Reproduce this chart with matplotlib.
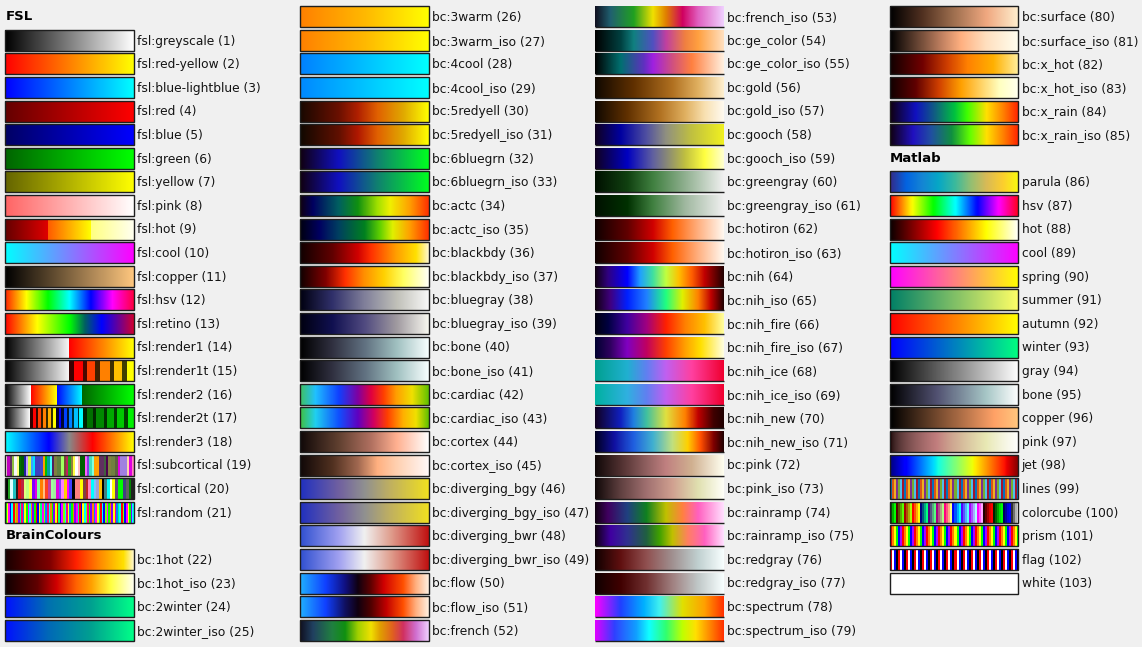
import numpy as np
import matplotlib
matplotlib.use("Agg")
import matplotlib.pyplot as plt
from matplotlib.colors import LinearSegmentedColormap, ListedColormap
from matplotlib.patches import Rectangle

# ---------------------------------------------------------------- data
section_titles = ["FSL", "BrainColours", "Matlab"]

fsl_names = ["fsl:greyscale", "fsl:red-yellow", "fsl:blue-lightblue", "fsl:red", "fsl:blue",
             "fsl:green", "fsl:yellow", "fsl:pink", "fsl:hot", "fsl:cool", "fsl:copper",
             "fsl:hsv", "fsl:retino", "fsl:render1", "fsl:render1t", "fsl:render2",
             "fsl:render2t", "fsl:render3", "fsl:subcortical", "fsl:cortical", "fsl:random"]

bc_names = ["bc:1hot", "bc:1hot_iso", "bc:2winter", "bc:2winter_iso", "bc:3warm", "bc:3warm_iso",
            "bc:4cool", "bc:4cool_iso", "bc:5redyell", "bc:5redyell_iso", "bc:6bluegrn",
            "bc:6bluegrn_iso", "bc:actc", "bc:actc_iso", "bc:blackbdy", "bc:blackbdy_iso",
            "bc:bluegray", "bc:bluegray_iso", "bc:bone", "bc:bone_iso", "bc:cardiac",
            "bc:cardiac_iso", "bc:cortex", "bc:cortex_iso", "bc:diverging_bgy",
            "bc:diverging_bgy_iso", "bc:diverging_bwr", "bc:diverging_bwr_iso", "bc:flow",
            "bc:flow_iso", "bc:french", "bc:french_iso", "bc:ge_color", "bc:ge_color_iso",
            "bc:gold", "bc:gold_iso", "bc:gooch", "bc:gooch_iso", "bc:greengray",
            "bc:greengray_iso", "bc:hotiron", "bc:hotiron_iso", "bc:nih", "bc:nih_iso",
            "bc:nih_fire", "bc:nih_fire_iso", "bc:nih_ice", "bc:nih_ice_iso", "bc:nih_new",
            "bc:nih_new_iso", "bc:pink", "bc:pink_iso", "bc:rainramp", "bc:rainramp_iso",
            "bc:redgray", "bc:redgray_iso", "bc:spectrum", "bc:spectrum_iso", "bc:surface",
            "bc:surface_iso", "bc:x_hot", "bc:x_hot_iso", "bc:x_rain", "bc:x_rain_iso"]

matlab_names = ["parula", "hsv", "hot", "cool", "spring", "summer", "autumn", "winter", "gray",
                "bone", "copper", "pink", "jet", "lines", "colorcube", "prism", "flag", "white"]

# band edges (percent of swatch width) and colours for the "transparent" render maps
render1t_edges = [50, 53.8, 60.5, 63.6, 70, 74, 81.3, 84.4, 90.9, 94.3, 100]
render1t_colors = ["#3c0000", "#ff0000", "#4a0800", "#ff4000", "#402000", "#ff8000",
                   "#403000", "#ffc000", "#404000", "#ffff00"]
render2t_edges = [19.5, 21.6, 23.9, 25.5, 27.8, 29.4, 31.9, 33.2, 35.8, 37.1, 39.7,
                  41.6, 43.6, 45.5, 48.1, 49.4, 51.9, 53.8, 56.4, 57.7, 60.3,
                  63.6, 68.3, 70.6, 76.6, 79.2, 84.4, 87.0, 92.2, 95.3, 100]
render2t_colors = ["#300000", "#ff0000", "#300800", "#ff4000", "#301800", "#ff8000",
                   "#302800", "#ffb000", "#303000", "#ffff00",
                   "#000030", "#0000ff", "#000830", "#0040ff", "#001830", "#0080ff",
                   "#002830", "#00c0ff", "#003030", "#00ffff",
                   "#002000", "#007000", "#002800", "#008800", "#003000", "#00a800",
                   "#003800", "#00c800", "#004000", "#00f000"]

fsl_subcortical_lut = ["#ffe0e0", "#c000c0", "#603060", "#90c040", "#f8f8f8", "#ffff80", "#007000",
                       "#006000", "#2020a0", "#c0a0ff", "#d0ff40", "#40a0ff", "#00e0ff", "#4040c0",
                       "#4040c0", "#4848c8", "#ffa000", "#00c000", "#00a0a0", "#40ffff", "#502060",
                       "#808040", "#608040", "#608040", "#a0ff60", "#705030", "#c02060", "#20a020",
                       "#908040", "#ffff40", "#ffffff", "#ffc0c0", "#006000", "#006000", "#ff60ff",
                       "#8040e0", "#40e0c0", "#80ffe0", "#ffa000", "#ffa000", "#603060", "#603060",
                       "#406040", "#500050", "#808040", "#708040", "#708040", "#606040", "#e000e0",
                       "#a080e0", "#a080e0", "#a080e0", "#ffd0b0", "#e000e0", "#ff80c0"]
fsl_cortical_lut = ["#000000", "#20a020", "#e0ffff", "#20c0c0", "#202020", "#e01010", "#c02040",
                    "#e0ff80", "#c0ff80", "#ffff40", "#8000ff", "#e000e0", "#80ffa0", "#ff8000",
                    "#ffc080", "#ff4020", "#c040a0", "#a0ffa0", "#a0f0a0", "#e000e0", "#8040ff",
                    "#ff80ff", "#ffd000", "#ff00ff", "#4040ff", "#000000", "#ff8080", "#ff8080",
                    "#ffff00", "#804040", "#c02020", "#ff80c0", "#00ffff", "#80c0ff", "#a0a0d0",
                    "#ffc000", "#000000", "#408080", "#00ffff", "#ffffff", "#ffff00", "#604080",
                    "#00ff00", "#00ff00", "#404080", "#606060", "#008000", "#202020"]
fsl_random_lut = ["#00ff00", "#ffff00", "#ff00ff", "#0000ff", "#00ffff", "#ff0000", "#80ff00",
                  "#ff8000", "#8000ff", "#00ff80", "#ff0080", "#0080ff", "#ffff00", "#00ff00",
                  "#ff00ff", "#00ffff", "#ff8000", "#8000ff", "#00ff00", "#ff0000", "#0000ff",
                  "#ffff00", "#00ff80", "#ff00ff", "#80ff00", "#0080ff", "#ff0080", "#00ffff",
                  "#ff8000", "#00ff00", "#8000ff", "#ffff00", "#ff0000", "#00ff80", "#0000ff",
                  "#ff00ff", "#80ff00", "#00ffff", "#ff0080", "#ffff00", "#0080ff", "#00ff00",
                  "#ff8000", "#8000ff", "#ff00ff", "#00ff80", "#ff0000", "#0000ff", "#ffff00",
                  "#00ffff", "#80ff00", "#ff0080", "#00ff00", "#8000ff", "#ff8000", "#0080ff",
                  "#ff00ff", "#ffff00", "#00ff80", "#ff0000", "#00ffff", "#0000ff", "#80ff00",
                  "#ff00ff", "#00ff00", "#ff8000", "#8000ff", "#ffff00", "#ff0080", "#0080ff",
                  "#00ff80", "#00ffff", "#ff0000", "#80ff00", "#0000ff", "#ff00ff", "#ffff00",
                  "#00ff00", "#8000ff", "#00ffff"]

fsl_maps = [
    ["#000000", "#ffffff"],
    ["#ff0000", "#ffff00"],
    ["#0000ff", "#00ffff"],
    ["#640000", "#ff0000"],
    ["#000064", "#0000ff"],
    ["#006400", "#00ff00"],
    ["#646400", "#ffff00"],
    ["#ff6464", "#ffffff"],
    [(0, "#640000"), (0.333, "#e00000"), (0.333, "#ff5a00"), (0.667, "#ffff00"),
     (0.667, "#ffff80"), (1, "#fffff0")],
    ["#00ffff", "#ff00ff"],
    ["#000000", "#ffc77f"],
    ["#ff2000", "#ffff00", "#00ff00", "#00ffff", "#0000ff", "#ff00ff", "#ff0040"],
    [(0, "#ff0000"), (0.25, "#ffff00"), (0.5, "#00ff00"), (0.62, "#006060"), (0.75, "#0000ff"),
     (0.87, "#6000a0"), (1, "#d00030")],
    [(0, "#000000"), (0.5, "#f8f8f8"), (0.5, "#ff0000"), (1, "#ffff00")],
    ("bands", [(0, "#000000"), (0.5, "#f8f8f8")], render1t_edges, render1t_colors),
    [(0, "#000000"), (0.2, "#ffffff"), (0.2, "#ff0000"), (0.4, "#ffff00"), (0.4, "#0000ff"),
     (0.6, "#00ffff"), (0.6, "#006600"), (1, "#00ff00")],
    ("bands", [(0, "#000000"), (0.195, "#ffffff")], render2t_edges, render2t_colors),
    [(0, "#00ffff"), (0.34, "#0000ff"), (0.5, "#888888"), (0.68, "#ff0000"), (1, "#ffff00")],
    ("lut", fsl_subcortical_lut),
    ("lut", fsl_cortical_lut),
    ("lut", fsl_random_lut),
]

bc_maps = [
    [(0, "#180000"), (0.35, "#800000"), (0.55, "#ff2000"), (0.75, "#ff9000"), (0.92, "#ffe000"), (1, "#fff8d0")],
    [(0, "#100000"), (0.25, "#600000"), (0.4, "#d00000"), (0.55, "#ff6000"), (0.67, "#ffa000"), (0.82, "#ffff40"), (1, "#fffff0")],
    ["#0010ff", "#0070b0", "#00a090", "#00ff88"],
    ["#0010ff", "#0068b8", "#00a090", "#00ff88"],
    ["#ff8000", "#ffb800", "#ffff00"],
    ["#ff8000", "#ffb800", "#ffff00"],
    ["#0080ff", "#00ffff"],
    ["#0088ff", "#00ffff"],
    [(0, "#180800"), (0.3, "#6a1000"), (0.45, "#b02000"), (0.6, "#e06000"), (0.8, "#e0a800"), (1, "#ffff00")],
    [(0, "#100800"), (0.3, "#601000"), (0.45, "#b01800"), (0.6, "#e06000"), (0.8, "#e0a800"), (1, "#ffff00")],
    [(0, "#100010"), (0.3, "#1010c0"), (0.6, "#108070"), (1, "#00ff20")],
    [(0, "#100010"), (0.3, "#1010c0"), (0.6, "#108070"), (1, "#00ff20")],
    [(0, "#100010"), (0.1, "#000060"), (0.3, "#006060"), (0.45, "#109010"), (0.6, "#a0e000"),
     (0.7, "#f0f000"), (0.85, "#ffa000"), (1, "#ff3000")],
    [(0, "#000010"), (0.15, "#000060"), (0.3, "#004060"), (0.5, "#008020"), (0.62, "#60d000"),
     (0.72, "#e0f000"), (0.85, "#ffa000"), (1, "#ff3000")],
    [(0, "#100000"), (0.25, "#600000"), (0.45, "#d00000"), (0.55, "#ff3000"), (0.75, "#ffa000"),
     (0.9, "#ffe000"), (1, "#fff8d0")],
    [(0, "#100000"), (0.2, "#800000"), (0.35, "#ff3000"), (0.5, "#ff9000"), (0.65, "#ffd000"),
     (0.8, "#ffff60"), (1, "#fffff8")],
    ["#000010", "#30306a", "#807f9a", "#c0c0b8", "#f8f8f8"],
    ["#000010", "#101050", "#504a80", "#a09aa0", "#f8f8f0"],
    ["#000000", "#303040", "#607080", "#a0c0c0", "#f8ffff"],
    ["#000000", "#303040", "#607080", "#a0c0c0", "#f8ffff"],
    [(0, "#40c060"), (0.12, "#20c0ff"), (0.3, "#1040ff"), (0.45, "#8000a0"), (0.55, "#e00040"),
     (0.65, "#ff4000"), (0.75, "#ffa000"), (0.87, "#f0e000"), (1, "#60c000")],
    [(0, "#40c040"), (0.12, "#20d0f0"), (0.3, "#1050ff"), (0.45, "#6000c0"), (0.57, "#d00060"),
     (0.68, "#ff4000"), (0.8, "#ffb000"), (0.9, "#f0e000"), (1, "#60c000")],
    [(0, "#100808"), (0.3, "#604030"), (0.55, "#b07060"), (0.75, "#ffb090"), (1, "#ffffff")],
    [(0, "#100808"), (0.25, "#503020"), (0.45, "#a06850"), (0.6, "#ffb080"), (0.75, "#ffd0b0"), (1, "#fff8f8")],
    [(0, "#2030c0"), (0.3, "#7060a0"), (0.5, "#909090"), (0.7, "#c0b060"), (1, "#f0e020")],
    [(0, "#2030c0"), (0.3, "#7060a0"), (0.5, "#909090"), (0.7, "#c0b060"), (1, "#f0e020")],
    [(0, "#3050d0"), (0.3, "#a0a0f0"), (0.5, "#f0f0f0"), (0.7, "#e0a090"), (1, "#c01010")],
    [(0, "#3050d0"), (0.3, "#a0a0f0"), (0.5, "#f0f0f0"), (0.7, "#e0a090"), (1, "#c01010")],
    [(0, "#20b0ff"), (0.2, "#1040ff"), (0.35, "#101080"), (0.45, "#100010"), (0.55, "#600000"),
     (0.65, "#d00000"), (0.8, "#ff5000"), (0.9, "#ffb080"), (1, "#fff0e0")],
    [(0, "#20b0ff"), (0.2, "#1040ff"), (0.35, "#101060"), (0.45, "#100010"), (0.55, "#500000"),
     (0.67, "#c00000"), (0.8, "#ff5000"), (0.9, "#ffb080"), (1, "#fff0e0")],
    [(0, "#101020"), (0.1, "#204060"), (0.25, "#208040"), (0.35, "#109010"), (0.45, "#a0d000"),
     (0.55, "#f0e000"), (0.62, "#e0a000"), (0.72, "#e06020"), (0.8, "#d03060"), (0.9, "#d070d0"), (1, "#f0d0ff")],
    [(0, "#101020"), (0.12, "#206070"), (0.3, "#20a020"), (0.45, "#f0e000"), (0.55, "#e08000"),
     (0.68, "#d00060"), (0.8, "#e060c0"), (1, "#f0d0ff")],
    [(0, "#000000"), (0.2, "#004040"), (0.3, "#108080"), (0.45, "#5050c0"), (0.55, "#c040a0"),
     (0.7, "#f08040"), (0.8, "#ffa040"), (1, "#ffe0c0")],
    [(0, "#000000"), (0.2, "#007070"), (0.38, "#6030c0"), (0.45, "#a020e0"), (0.6, "#d05080"),
     (0.75, "#ff8040"), (1, "#fff0e0")],
    [(0, "#100800"), (0.3, "#603000"), (0.6, "#b07020"), (0.8, "#e0b060"), (1, "#fff0d0")],
    [(0, "#100800"), (0.25, "#603000"), (0.5, "#b07020"), (0.7, "#e0b060"), (0.85, "#f8e0b0"), (1, "#fffaf0")],
    [(0, "#100020"), (0.2, "#0000a0"), (0.4, "#5050a0"), (0.55, "#909080"), (0.75, "#c0c040"), (1, "#f0f020")],
    [(0, "#100020"), (0.25, "#0000c0"), (0.45, "#6060a0"), (0.7, "#c0c040"), (0.85, "#ffff40"), (1, "#ffffd0")],
    [(0, "#001000"), (0.25, "#104010"), (0.45, "#408040"), (0.7, "#90b090"), (1, "#f0f0f0")],
    [(0, "#001000"), (0.25, "#003000"), (0.45, "#408040"), (0.7, "#a0b8a0"), (1, "#f0f0f0")],
    [(0, "#100000"), (0.25, "#600000"), (0.45, "#d00000"), (0.6, "#ff6000"), (0.8, "#ffb080"), (1, "#fff8f0")],
    [(0, "#100000"), (0.25, "#600000"), (0.45, "#d00000"), (0.6, "#ff6000"), (0.8, "#ffb080"), (1, "#fff8f0")],
    [(0, "#100010"), (0.1, "#300080"), (0.25, "#0000ff"), (0.35, "#20a0ff"), (0.45, "#40e0a0"),
     (0.55, "#c0ff40"), (0.65, "#ffc000"), (0.75, "#ff6000"), (0.85, "#c00000"), (1, "#200000")],
    [(0, "#100010"), (0.12, "#400080"), (0.25, "#0020ff"), (0.4, "#2080ff"), (0.55, "#20ff80"),
     (0.68, "#e0f000"), (0.8, "#ff8000"), (0.9, "#c00000"), (1, "#200000")],
    [(0, "#000010"), (0.1, "#000040"), (0.25, "#4000a0"), (0.4, "#a00080"), (0.55, "#ff2000"),
     (0.7, "#ff8000"), (0.85, "#ffc000"), (1, "#ffffa0")],
    [(0, "#000030"), (0.12, "#300060"), (0.25, "#8000c0"), (0.4, "#c00060"), (0.55, "#ff4000"),
     (0.7, "#ffa000"), (0.82, "#ffe000"), (1, "#ffffe0")],
    [(0, "#00a090"), (0.25, "#20b0d0"), (0.4, "#6080f0"), (0.55, "#c060f0"), (0.75, "#ff40a0"), (1, "#f00030")],
    [(0, "#00b0a0"), (0.25, "#30b0e0"), (0.4, "#6080f0"), (0.55, "#c060f0"), (0.75, "#ff40a0"), (1, "#f00030")],
    [(0, "#100020"), (0.2, "#1020c0"), (0.3, "#2080e0"), (0.4, "#40c0a0"), (0.55, "#e0e040"),
     (0.7, "#ff8000"), (0.8, "#c00000"), (0.92, "#400000"), (1, "#200000")],
    [(0, "#000020"), (0.15, "#1010a0"), (0.3, "#2060e0"), (0.45, "#40b0d0"), (0.6, "#c0e080"),
     (0.72, "#ffd000"), (0.82, "#ff5000"), (0.92, "#800000"), (1, "#200000")],
    [(0, "#100808"), (0.2, "#503030"), (0.4, "#906060"), (0.55, "#c08080"), (0.75, "#d0b090"), (1, "#fffff0")],
    [(0, "#100808"), (0.2, "#604040"), (0.4, "#a07070"), (0.6, "#d0a090"), (0.8, "#e0e0b0"), (1, "#fffff8")],
    [(0, "#100010"), (0.1, "#400060"), (0.25, "#204080"), (0.4, "#108020"), (0.55, "#c0c000"),
     (0.68, "#ff8040"), (0.8, "#ff60c0"), (1, "#ffe0ff")],
    [(0, "#100010"), (0.12, "#4000a0"), (0.25, "#303090"), (0.4, "#206040"), (0.5, "#40a000"),
     (0.6, "#c0c000"), (0.72, "#ff8060"), (0.85, "#ff60c0"), (1, "#ffe0ff")],
    [(0, "#100000"), (0.2, "#601010"), (0.4, "#905050"), (0.6, "#a09090"), (0.8, "#c0d0d0"), (1, "#f8ffff")],
    [(0, "#100000"), (0.2, "#400000"), (0.4, "#703030"), (0.6, "#a08080"), (0.8, "#c0c8c8"), (1, "#f8ffff")],
    [(0, "#ff00ff"), (0.2, "#2040ff"), (0.38, "#00b0ff"), (0.5, "#40f0f0"), (0.68, "#e0e000"),
     (0.85, "#ffa000"), (1, "#ff3000")],
    [(0, "#e000ff"), (0.15, "#3040ff"), (0.32, "#10a0ff"), (0.42, "#10ffff"), (0.55, "#30ff70"),
     (0.68, "#c0ff00"), (0.78, "#ffe000"), (0.88, "#ff9000"), (1, "#ff3000")],
    [(0, "#000000"), (0.25, "#503020"), (0.5, "#a07050"), (0.75, "#f0a880"), (1, "#fff0d0")],
    [(0, "#000000"), (0.2, "#604030"), (0.4, "#c08060"), (0.55, "#ffb080"), (0.75, "#ffe0c0"), (1, "#fffff0")],
    [(0, "#100000"), (0.25, "#700000"), (0.45, "#d04000"), (0.6, "#ff8000"), (0.8, "#ffb000"), (1, "#fff0a0")],
    [(0, "#100000"), (0.2, "#600000"), (0.38, "#d04000"), (0.55, "#ffa000"), (0.7, "#ffd060"),
     (0.85, "#ffffc0"), (1, "#fffff0")],
    [(0, "#100010"), (0.2, "#1010c0"), (0.35, "#106080"), (0.5, "#00c040"), (0.6, "#40ff00"),
     (0.75, "#ffe000"), (0.88, "#ff8000"), (1, "#ff2000")],
    [(0, "#100010"), (0.18, "#2010c0"), (0.32, "#2050a0"), (0.48, "#109040"), (0.62, "#60ff00"),
     (0.75, "#ffe000"), (0.88, "#ff8000"), (1, "#ff2000")],
]

parula_stops = ["#352a87", "#0363e1", "#1485d4", "#06a7c6", "#38b99e", "#92bf73",
                "#d9ba56", "#fcce2e", "#f9fb0e"]
lines_palette = ["#0072bd", "#d95319", "#edb120", "#7e2f8e", "#77ac30", "#4dbeee", "#a2142f"]
prism_palette = ["#ff0000", "#ff8000", "#ffff00", "#00ff00", "#0000ff", "#aa00ff"]
flag_palette = ["#ff0000", "#ffffff", "#0000ff", "#000000"]
colorcube_lut = ["#005500", "#00aa00", "#00ff00", "#550000", "#555500", "#55aa00", "#55ff00",
                 "#aa0000", "#aa5500", "#aaaa00", "#aaff00", "#ff0000", "#ff5500", "#ffaa00",
                 "#ffff00", "#000080", "#005580", "#00aa80", "#00ff80", "#550080", "#555580",
                 "#55aa80", "#55ff80", "#aa0080", "#aa5580", "#aaaa80", "#aaff80", "#ff0080",
                 "#ff5580", "#ffaa80", "#ffff80", "#0000ff", "#0055ff", "#00aaff", "#00ffff",
                 "#5500ff", "#5555ff", "#55aaff", "#55ffff", "#aa00ff", "#aa55ff", "#aaaaff",
                 "#aaffff", "#ff00ff", "#ff55ff", "#ffaaff",
                 "#200000", "#600000", "#a00000", "#e00000", "#ff0000",
                 "#002000", "#006000", "#00a000", "#00e000", "#00ff00",
                 "#000060", "#0000a0", "#0000e0", "#0000ff",
                 "#303030", "#707070", "#b0b0b0", "#f0f0f0"]

matlab_maps = [
    parula_stops, "hsv", "hot", "cool", "spring", "summer", "autumn", "winter", "gray",
    "bone", "copper", "pink", "jet",
    ("cycle", lines_palette, 64), ("lut", colorcube_lut),
    ("cycle", prism_palette, 64), ("cycle", flag_palette, 64),
    ["#ffffff", "#ffffff"],
]


# ---------------------------------------------------------------- helpers
def band_stops(base, edges, colors):
    stops = list(base)
    for i, c in enumerate(colors):
        stops.append((edges[i] / 100.0, c))
        stops.append((edges[i + 1] / 100.0, c))
    return stops


def make_cmap(spec):
    """Return (cmap, n_samples, discrete)."""
    if isinstance(spec, str):
        return plt.get_cmap(spec), 256, False
    if isinstance(spec, tuple):
        kind = spec[0]
        if kind == "lut":
            return ListedColormap(spec[1]), len(spec[1]), True
        if kind == "cycle":
            cols = [spec[1][i % len(spec[1])] for i in range(spec[2])]
            return ListedColormap(cols), spec[2], True
        if kind == "bands":
            stops = band_stops(spec[1], spec[2], spec[3])
            return LinearSegmentedColormap.from_list("b", stops, N=1024), 1024, False
    return LinearSegmentedColormap.from_list("c", spec, N=512), 512, False


# ---------------------------------------------------------------- layout
W, H = 1142, 647
BG = "#f0f0f0"
col_x = [5, 300, 595, 889.5]
sw_w = 128.5
sw_h = 21.0
row0 = 16.7
row_dy = 23.6
rows_per_col = 27

entries = [("header", section_titles[0])]
entries += [("map", n, m) for n, m in zip(fsl_names, fsl_maps)]
entries += [("header", section_titles[1])]
entries += [("map", n, m) for n, m in zip(bc_names, bc_maps)]
entries += [("header", section_titles[2])]
entries += [("map", n, m) for n, m in zip(matlab_names, matlab_maps)]

fig = plt.figure(figsize=(W / 100, H / 100), dpi=100, facecolor=BG)
ax = fig.add_axes([0, 0, 1, 1])
ax.set_facecolor(BG)

idx = 0
for k, e in enumerate(entries):
    col, row = divmod(k, rows_per_col)
    x = col_x[col]
    yc = row0 + row * row_dy
    if e[0] == "header":
        ax.text(x + 0.5, yc, e[1], fontsize=9.5, fontweight="bold", color="#000000",
                ha="left", va="center")
        continue
    idx += 1
    cmap, n, discrete = make_cmap(e[2])
    if discrete:
        img = np.arange(n).reshape(1, -1)
    else:
        img = np.linspace(0, 1, n).reshape(1, -1)
    y0 = yc - sw_h / 2
    ax.imshow(img, cmap=cmap, aspect="auto", interpolation="nearest",
              extent=(x, x + sw_w, y0 + sw_h, y0))
    if col == 2:
        ax.plot([x, x + sw_w], [y0 + sw_h, y0 + sw_h], color="#1e1e1e", lw=1.0,
                solid_capstyle="butt")
    else:
        ax.add_patch(Rectangle((x, y0), sw_w, sw_h, fill=False, edgecolor="#1e1e1e", lw=1.0))
    ax.text(x + sw_w + 3.5, yc + 0.8, f"{e[1]} ({idx})", fontsize=8.8, color="#141414",
            ha="left", va="center")

ax.set_xlim(0, W)
ax.set_ylim(H, 0)
ax.axis("off")
fig.savefig("out.png", dpi=100, facecolor=BG)
